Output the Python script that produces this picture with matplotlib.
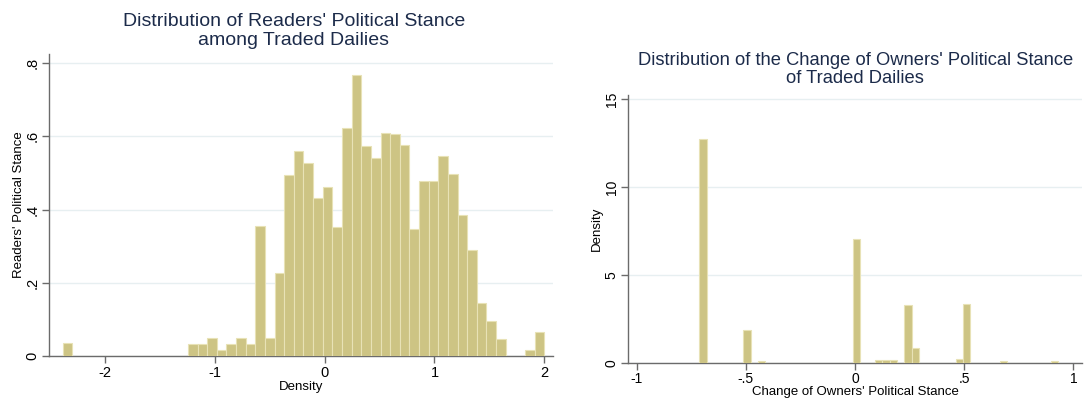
import numpy as np
import matplotlib.pyplot as plt

plt.rcParams['font.family'] = ['Liberation Sans', 'DejaVu Sans']

# readers' stance histogram: 50 bins from -2.385 to 2.0
readers_lo, readers_hi = -2.385, 2.0
readers_density = [0.035, 0, 0, 0, 0, 0, 0, 0, 0, 0,
                   0, 0, 0, 0.034, 0.034, 0.049, 0.017, 0.034, 0.049, 0.034,
                   0.355, 0.049, 0.226, 0.493, 0.559, 0.526, 0.431, 0.462, 0.351, 0.624,
                   0.767, 0.574, 0.542, 0.609, 0.607, 0.576, 0.348, 0.479, 0.479, 0.545,
                   0.496, 0.385, 0.290, 0.144, 0.095, 0.047, 0, 0, 0.017, 0.066]

# change of owners' stance histogram: 49 bins from -0.713 to 0.931
owners_lo, owners_hi = -0.713, 0.931
owners_density = [12.75, 0, 0, 0, 0, 0, 1.84, 0, 0.10, 0,
                  0, 0, 0, 0, 0, 0, 0, 0, 0, 0,
                  0, 7.05, 0, 0, 0.17, 0.13, 0.13, 0, 3.29, 0.84,
                  0, 0, 0, 0, 0, 0.21, 3.33, 0, 0, 0,
                  0, 0.10, 0, 0, 0, 0, 0, 0, 0.10]

left_xticks = [-2, -1, 0, 1, 2]
left_xlabels = ['-2', '-1', '0', '1', '2']
left_yticks = [0, 0.2, 0.4, 0.6, 0.8]
left_ylabels = ['0', '.2', '.4', '.6', '.8']
right_xticks = [-1, -0.5, 0, 0.5, 1]
right_xlabels = ['-1', '-.5', '0', '.5', '1']
right_yticks = [0, 5, 10, 15]
right_ylabels = ['0', '5', '10', '15']

BAR = '#cdc484'
EDGE = '#e8e2b6'
TITLE = '#1c2b4a'
AXIS = '#6b6b6b'
GRID = '#e7eff1'


def draw_hist(ax, lo, hi, dens):
    edges = np.linspace(lo, hi, len(dens) + 1)
    ax.bar(edges[:-1], dens, width=np.diff(edges), align='edge',
           color=BAR, edgecolor=EDGE, linewidth=0.8, zorder=3)


def style(ax, xt, xl, yt, yl, size):
    for s in ['top', 'right']:
        ax.spines[s].set_visible(False)
    for s in ['left', 'bottom']:
        ax.spines[s].set_color(AXIS)
        ax.spines[s].set_linewidth(1.0)
    ax.set_xticks(xt)
    ax.set_xticklabels(xl)
    ax.set_yticks(yt)
    ax.set_yticklabels(yl, rotation=90, va='center')
    ax.tick_params(direction='out', length=5, width=1, color=AXIS,
                   labelsize=size, labelcolor='black', pad=2)
    ax.yaxis.grid(True, color=GRID, linewidth=1.0, zorder=0)
    ax.set_axisbelow(True)


fig = plt.figure(figsize=(10.84, 3.98), dpi=100)

ax1 = fig.add_axes([0.0452, 0.1055, 0.465, 0.759])
draw_hist(ax1, readers_lo, readers_hi, readers_density)
style(ax1, left_xticks, left_xlabels, left_yticks, left_ylabels, 10.5)
ax1.set_xlim(-2.51, 2.08)
ax1.set_ylim(0, 0.825)
ax1.set_xlabel('Density', fontsize=9.5, labelpad=1)
ax1.set_ylabel("Readers' Political Stance", fontsize=9.5, labelpad=0)
fig.text(0.271, 0.922, "Distribution of Readers' Political Stance\namong Traded Dailies",
         ha='center', va='center', fontsize=14, color=TITLE, linespacing=1.15)

ax2 = fig.add_axes([0.5796, 0.0887, 0.4183, 0.6726])
draw_hist(ax2, owners_lo, owners_hi, owners_density)
style(ax2, right_xticks, right_xlabels, right_yticks, right_ylabels, 10)
ax2.set_xlim(-1.038, 1.038)
ax2.set_ylim(0, 15.23)
ax2.set_xlabel("Change of Owners' Political Stance", fontsize=9.5, labelpad=0)
ax2.set_ylabel('Density', fontsize=9.5, labelpad=1)
fig.text(0.789, 0.826, "Distribution of the Change of Owners' Political Stance\nof Traded Dailies",
         ha='center', va='center', fontsize=13.2, color=TITLE, linespacing=1.05)

fig.savefig('out.png', dpi=100)
